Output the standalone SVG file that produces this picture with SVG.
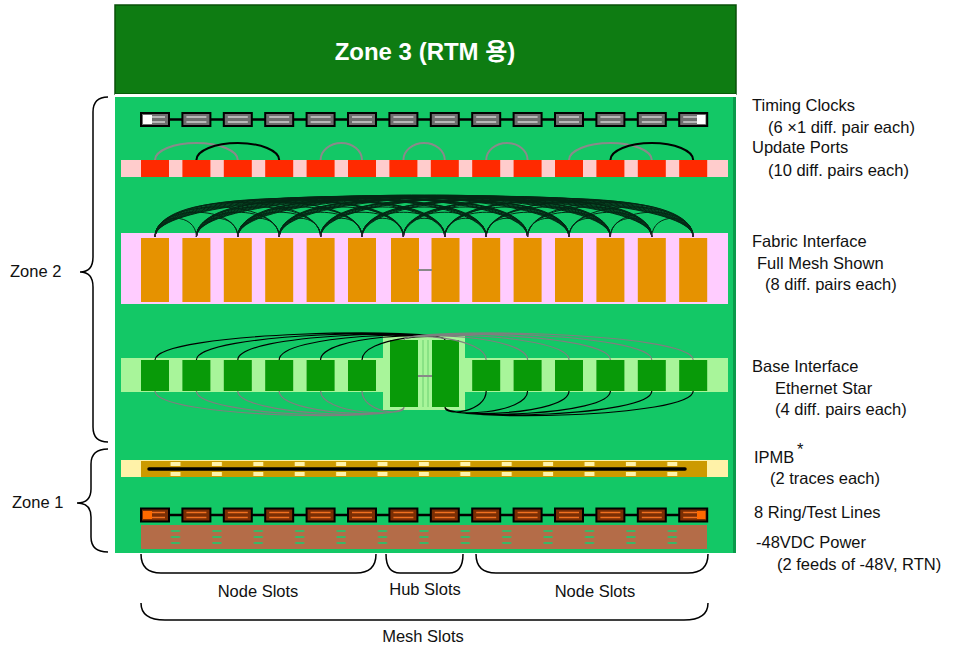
<svg xmlns="http://www.w3.org/2000/svg" xmlns:xlink="http://www.w3.org/1999/xlink" width="960" height="648" viewBox="0 0 960 648">
<style>
.lbl{font-family:"Liberation Sans",Arial,sans-serif;font-size:16.5px;fill:#111}
.zl{font-family:"Liberation Sans",Arial,sans-serif;font-size:16.5px;fill:#111}
.brace{fill:none;stroke:#000;stroke-width:1.5}
.mesh{fill:none;stroke:#000;stroke-width:1;opacity:0.8}
.gr{fill:none;stroke:#7f7f7f;stroke-width:1.2}
.bk{fill:none;stroke:#000;stroke-width:1.2}
</style>
<defs>
<g id="tcBox"><rect x="-14" y="-6.5" width="28" height="13" fill="#6e6e6e" stroke="#000" stroke-width="2"/><path d="M-10,-2.5H10M-10,2.5H10" stroke="#d0d0d0" stroke-width="1.5"/></g>
<g id="rtBox"><rect x="-14" y="-6.5" width="28" height="13" fill="#7a2e04" stroke="#000" stroke-width="2"/><path d="M-10,-2.5H10M-10,2.5H10" stroke="#f07020" stroke-width="1.5"/></g>
<rect id="upBox" x="-14" y="160" width="28" height="17" fill="#ff2a00"/>
<rect id="fbBox" x="-14" y="238" width="28" height="64" fill="#e69200"/>
<rect id="bsBox" x="-14" y="360" width="28" height="31" fill="#089a08"/>
<pattern id="ip" x="141" y="461" width="41.4" height="16" patternUnits="userSpaceOnUse"><rect x="0" y="0" width="41.4" height="16" fill="#cc9a00"/><rect x="29.5" y="1" width="10" height="4" fill="#fff2a8"/><rect x="29.5" y="11" width="10" height="4" fill="#fff2a8"/></pattern>
<pattern id="pw" x="141" y="525" width="41.4" height="24" patternUnits="userSpaceOnUse"><rect x="0" y="0" width="41.4" height="24" fill="#b46c48"/><rect x="30" y="5" width="9" height="2" fill="#3bb765"/><rect x="30" y="11" width="9" height="2" fill="#3bb765"/><rect x="30" y="17" width="9" height="2" fill="#3bb765"/></pattern>
</defs>

<g id="zone3">
<rect x="115" y="5" width="621" height="89" fill="#0e7c12" stroke="#085008" stroke-width="1.5"/>
<text x="425" y="60" text-anchor="middle" font-family="'Liberation Sans','Noto Sans CJK KR',sans-serif" font-size="24" font-weight="bold" fill="#fff">Zone 3 (RTM 용)</text>
</g>
<rect x="115" y="94" width="621" height="3" fill="#ffffff"/>
<g id="board">
<rect x="115" y="97" width="621" height="456" fill="#13c866"/>
<rect x="733" y="97" width="3" height="456" fill="#0a9a4a"/>
</g>

<g id="timing-clocks">
<line x1="141" y1="119.5" x2="707" y2="119.5" stroke="#000" stroke-width="2.5"/>
<use xlink:href="#tcBox" x="155" y="119.5"/><use xlink:href="#tcBox" x="196.4" y="119.5"/><use xlink:href="#tcBox" x="237.8" y="119.5"/><use xlink:href="#tcBox" x="279.2" y="119.5"/><use xlink:href="#tcBox" x="320.6" y="119.5"/><use xlink:href="#tcBox" x="362" y="119.5"/><use xlink:href="#tcBox" x="403.4" y="119.5"/><use xlink:href="#tcBox" x="444.8" y="119.5"/><use xlink:href="#tcBox" x="486.2" y="119.5"/><use xlink:href="#tcBox" x="527.6" y="119.5"/><use xlink:href="#tcBox" x="569" y="119.5"/><use xlink:href="#tcBox" x="610.4" y="119.5"/><use xlink:href="#tcBox" x="651.8" y="119.5"/><use xlink:href="#tcBox" x="693.2" y="119.5"/>
<rect x="143" y="115" width="9" height="9" fill="#fff"/>
<rect x="697" y="115" width="8.5" height="9" fill="#fff"/>
</g>

<g id="update-ports">
<rect x="121" y="160" width="607" height="17" fill="#ffcccc"/>
<use xlink:href="#upBox" x="155"/><use xlink:href="#upBox" x="196.4"/><use xlink:href="#upBox" x="237.8"/><use xlink:href="#upBox" x="279.2"/><use xlink:href="#upBox" x="320.6"/><use xlink:href="#upBox" x="362"/><use xlink:href="#upBox" x="403.4"/><use xlink:href="#upBox" x="444.8"/><use xlink:href="#upBox" x="486.2"/><use xlink:href="#upBox" x="527.6"/><use xlink:href="#upBox" x="569"/><use xlink:href="#upBox" x="610.4"/><use xlink:href="#upBox" x="651.8"/><use xlink:href="#upBox" x="693.2"/>
</g>

<g id="fabric-interface">
<rect x="121" y="233" width="607" height="71" fill="#ffccff"/>
<use xlink:href="#fbBox" x="155"/><use xlink:href="#fbBox" x="196.4"/><use xlink:href="#fbBox" x="237.8"/><use xlink:href="#fbBox" x="279.2"/><use xlink:href="#fbBox" x="320.6"/><use xlink:href="#fbBox" x="362"/><use xlink:href="#fbBox" x="405"/><use xlink:href="#fbBox" x="445.5"/><use xlink:href="#fbBox" x="486.2"/><use xlink:href="#fbBox" x="527.6"/><use xlink:href="#fbBox" x="569"/><use xlink:href="#fbBox" x="610.4"/><use xlink:href="#fbBox" x="651.8"/><use xlink:href="#fbBox" x="693.2"/>
<line x1="418" y1="270" x2="432" y2="270" stroke="#888" stroke-width="2"/>
</g>

<g id="base-interface">
<rect x="121" y="358" width="607" height="34" fill="#a8f59a"/>
<use xlink:href="#bsBox" x="155"/><use xlink:href="#bsBox" x="196.4"/><use xlink:href="#bsBox" x="237.8"/><use xlink:href="#bsBox" x="279.2"/><use xlink:href="#bsBox" x="320.6"/><use xlink:href="#bsBox" x="362"/><use xlink:href="#bsBox" x="486.2"/><use xlink:href="#bsBox" x="527.6"/><use xlink:href="#bsBox" x="569"/><use xlink:href="#bsBox" x="610.4"/><use xlink:href="#bsBox" x="651.8"/><use xlink:href="#bsBox" x="693.2"/>
<rect x="383" y="336" width="82" height="74" fill="#a8f59a"/>
<rect x="390" y="340" width="28" height="67" fill="#089a08"/>
<rect x="432" y="340" width="27" height="67" fill="#089a08"/>
<line x1="423" y1="340" x2="423" y2="407" stroke="#6ad070" stroke-width="1"/>
<line x1="428" y1="340" x2="428" y2="407" stroke="#6ad070" stroke-width="1"/>
<line x1="418" y1="376" x2="432" y2="376" stroke="#888" stroke-width="2"/>
</g>

<g id="ipmb">
<rect x="121" y="460" width="607" height="17" fill="#fff2a8"/>
<rect x="141" y="461" width="566" height="16" fill="url(#ip)"/>
<line x1="149" y1="469" x2="685" y2="469" stroke="#000" stroke-width="3.5" stroke-linecap="round"/>
</g>

<g id="ring-test-lines">
<line x1="141" y1="515" x2="707" y2="515" stroke="#000" stroke-width="2.5"/>
<use xlink:href="#rtBox" x="155" y="515"/><use xlink:href="#rtBox" x="196.4" y="515"/><use xlink:href="#rtBox" x="237.8" y="515"/><use xlink:href="#rtBox" x="279.2" y="515"/><use xlink:href="#rtBox" x="320.6" y="515"/><use xlink:href="#rtBox" x="362" y="515"/><use xlink:href="#rtBox" x="403.4" y="515"/><use xlink:href="#rtBox" x="444.8" y="515"/><use xlink:href="#rtBox" x="486.2" y="515"/><use xlink:href="#rtBox" x="527.6" y="515"/><use xlink:href="#rtBox" x="569" y="515"/><use xlink:href="#rtBox" x="610.4" y="515"/><use xlink:href="#rtBox" x="651.8" y="515"/><use xlink:href="#rtBox" x="693.2" y="515"/>
<rect x="143" y="511" width="9" height="8" fill="#ff6a00"/>
<rect x="697" y="511" width="8.5" height="8" fill="#ff6a00"/>
</g>

<g id="power">
<rect x="141" y="525" width="566" height="24" fill="url(#pw)"/>
</g>

<g id="connectors">
<g id="update-arcs" stroke-width="2" fill="none">
<path stroke="#8a8a8a" d="M155,160A41.4,17 0 0 1 237.8,160M320.6,160A20.7,17 0 0 1 362,160M403.4,160A20.7,17 0 0 1 444.8,160M486.2,160A20.7,17 0 0 1 527.6,160M569,160A41.4,17 0 0 1 651.8,160"/>
<path stroke="#000" d="M196.4,160A41.4,17 0 0 1 279.2,160M610.4,160A41.4,17 0 0 1 693.2,160"/>
</g>
<g id="fabric-mesh" class="mesh">
<path d="M155,237c0,-25 41.4,-25 41.4,0c0,-25 41.4,-25 41.4,0c0,-25 41.4,-25 41.4,0c0,-25 41.4,-25 41.4,0c0,-25 41.4,-25 41.4,0c0,-25 41.4,-25 41.4,0c0,-25 41.4,-25 41.4,0c0,-25 41.4,-25 41.4,0c0,-25 41.4,-25 41.4,0c0,-25 41.4,-25 41.4,0c0,-25 41.4,-25 41.4,0c0,-25 41.4,-25 41.4,0c0,-25 41.4,-25 41.4,0"/>
<path d="M155,237c0,-33 82.8,-33 82.8,0m-41.4,0c0,-33 82.8,-33 82.8,0m-41.4,0c0,-33 82.8,-33 82.8,0m-41.4,0c0,-33 82.8,-33 82.8,0m-41.4,0c0,-33 82.8,-33 82.8,0m-41.4,0c0,-33 82.8,-33 82.8,0m-41.4,0c0,-33 82.8,-33 82.8,0m-41.4,0c0,-33 82.8,-33 82.8,0m-41.4,0c0,-33 82.8,-33 82.8,0m-41.4,0c0,-33 82.8,-33 82.8,0m-41.4,0c0,-33 82.8,-33 82.8,0m-41.4,0c0,-33 82.8,-33 82.8,0"/>
<path d="M155,237c0,-40 124.2,-40 124.2,0m-82.8,0c0,-40 124.2,-40 124.2,0m-82.8,0c0,-40 124.2,-40 124.2,0m-82.8,0c0,-40 124.2,-40 124.2,0m-82.8,0c0,-40 124.2,-40 124.2,0m-82.8,0c0,-40 124.2,-40 124.2,0m-82.8,0c0,-40 124.2,-40 124.2,0m-82.8,0c0,-40 124.2,-40 124.2,0m-82.8,0c0,-40 124.2,-40 124.2,0m-82.8,0c0,-40 124.2,-40 124.2,0m-82.8,0c0,-40 124.2,-40 124.2,0"/>
<path d="M155,237c0,-46 165.6,-46 165.6,0m-124.2,0c0,-46 165.6,-46 165.6,0m-124.2,0c0,-46 165.6,-46 165.6,0m-124.2,0c0,-46 165.6,-46 165.6,0m-124.2,0c0,-46 165.6,-46 165.6,0m-124.2,0c0,-46 165.6,-46 165.6,0m-124.2,0c0,-46 165.6,-46 165.6,0m-124.2,0c0,-46 165.6,-46 165.6,0m-124.2,0c0,-46 165.6,-46 165.6,0m-124.2,0c0,-46 165.6,-46 165.6,0"/>
<path d="M155,237c0,-49 207,-49 207,0m-165.6,0c0,-49 207,-49 207,0m-165.6,0c0,-49 207,-49 207,0m-165.6,0c0,-49 207,-49 207,0m-165.6,0c0,-49 207,-49 207,0m-165.6,0c0,-49 207,-49 207,0m-165.6,0c0,-49 207,-49 207,0m-165.6,0c0,-49 207,-49 207,0m-165.6,0c0,-49 207,-49 207,0"/>
<path d="M155,237c0,-51 248.4,-51 248.4,0m-207,0c0,-51 248.4,-51 248.4,0m-207,0c0,-51 248.4,-51 248.4,0m-207,0c0,-51 248.4,-51 248.4,0m-207,0c0,-51 248.4,-51 248.4,0m-207,0c0,-51 248.4,-51 248.4,0m-207,0c0,-51 248.4,-51 248.4,0m-207,0c0,-51 248.4,-51 248.4,0"/>
<path d="M155,237c0,-52 289.8,-52 289.8,0m-248.4,0c0,-52 289.8,-52 289.8,0m-248.4,0c0,-52 289.8,-52 289.8,0m-248.4,0c0,-52 289.8,-52 289.8,0m-248.4,0c0,-52 289.8,-52 289.8,0m-248.4,0c0,-52 289.8,-52 289.8,0m-248.4,0c0,-52 289.8,-52 289.8,0"/>
<path d="M155,237c0,-53 331.2,-53 331.2,0m-289.8,0c0,-53 331.2,-53 331.2,0m-289.8,0c0,-53 331.2,-53 331.2,0m-289.8,0c0,-53 331.2,-53 331.2,0m-289.8,0c0,-53 331.2,-53 331.2,0m-289.8,0c0,-53 331.2,-53 331.2,0"/>
<path d="M155,237c0,-54 372.6,-54 372.6,0m-331.2,0c0,-54 372.6,-54 372.6,0m-331.2,0c0,-54 372.6,-54 372.6,0m-331.2,0c0,-54 372.6,-54 372.6,0m-331.2,0c0,-54 372.6,-54 372.6,0"/>
<path d="M155,237c0,-54.5 414,-54.5 414,0m-372.6,0c0,-54.5 414,-54.5 414,0m-372.6,0c0,-54.5 414,-54.5 414,0m-372.6,0c0,-54.5 414,-54.5 414,0"/>
<path d="M155,237c0,-55 455.4,-55 455.4,0m-414,0c0,-55 455.4,-55 455.4,0m-414,0c0,-55 455.4,-55 455.4,0"/>
<path d="M155,237c0,-55.5 496.8,-55.5 496.8,0m-455.4,0c0,-55.5 496.8,-55.5 496.8,0"/>
<path d="M155,237c0,-56 538.2,-56 538.2,0"/>
</g>
<g id="base-star">
<path class="bk" d="M155,360C155,331 445,327 445,340M196.4,360C196.4,332 445,328 445,340M237.8,360C237.8,333 445,329 445,340M279.2,360C279.2,334 445,330 445,340M320.6,360C320.6,335 445,331 445,340M362,360C362,337 445,332 445,340"/>
<path class="gr" d="M404,340C404,327 693.2,331 693.2,360M404,340C404,328 651.8,332 651.8,360M404,340C404,329 610.4,333 610.4,360M404,340C404,330 569,334 569,360M404,340C404,331 527.6,335 527.6,360M404,340C404,332 486.2,337 486.2,360"/>
<path class="gr" d="M155,391C155,418 404,422 404,407M196.4,391C196.4,417 404,421 404,407M237.8,391C237.8,416 404,420 404,407M279.2,391C279.2,415 404,419 404,407M320.6,391C320.6,414 404,418 404,407M362,391C362,412 404,417 404,407"/>
<path class="bk" d="M445,407C445,422 693.2,418 693.2,391M445,407C445,421 651.8,417 651.8,391M445,407C445,420 610.4,416 610.4,391M445,407C445,419 569,415 569,391M445,407C445,418 527.6,414 527.6,391M445,407C445,417 486.2,412 486.2,391"/>
</g>
</g>

<g id="zone-braces">
<path class="brace" d="M108,97Q93,97 93,112L93,257Q93,272 80,272Q93,272 93,287L93,427Q93,442 108,442"/>
<text class="zl" x="10" y="277">Zone 2</text>
<path class="brace" d="M108,449Q91,449 91,464L91,489Q91,503 77,503Q91,503 91,517L91,537Q91,552 108,552"/>
<text class="zl" x="12" y="508">Zone 1</text>
</g>

<g id="slot-braces">
<path class="brace" d="M141,554Q141,573 161,573L356,573Q376,573 376,554"/>
<path class="brace" d="M386,554Q386,573 400,573L449,573Q463,573 463,554"/>
<path class="brace" d="M476,554Q476,573 496,573L688,573Q708,573 708,554"/>
<text class="zl" x="258" y="597" text-anchor="middle">Node Slots</text>
<text class="zl" x="425" y="595" text-anchor="middle">Hub Slots</text>
<text class="zl" x="595" y="597" text-anchor="middle">Node Slots</text>
<path class="brace" d="M141,603Q141,620 165,620L684,620Q708,620 708,603"/>
<text class="zl" x="423" y="642" text-anchor="middle">Mesh Slots</text>
</g>

<g id="labels">
<text class="lbl" x="752" y="111">Timing Clocks</text>
<text class="lbl" x="768" y="133">(6 ×1 diff. pair each)</text>
<text class="lbl" x="752" y="153">Update Ports</text>
<text class="lbl" x="768" y="176">(10 diff. pairs each)</text>
<text class="lbl" x="752" y="247">Fabric Interface</text>
<text class="lbl" x="757" y="269">Full Mesh Shown</text>
<text class="lbl" x="765" y="290">(8 diff. pairs each)</text>
<text class="lbl" x="752" y="372">Base Interface</text>
<text class="lbl" x="775" y="394">Ethernet Star</text>
<text class="lbl" x="775" y="415">(4 diff. pairs each)</text>
<text class="lbl" x="754" y="463">IPMB</text>
<text class="lbl" x="797" y="455" font-size="10">*</text>
<text class="lbl" x="770" y="484">(2 traces each)</text>
<text class="lbl" x="754" y="518">8 Ring/Test Lines</text>
<text class="lbl" x="756" y="548">-48VDC Power</text>
<text class="lbl" x="777" y="570">(2 feeds of -48V, RTN)</text>
</g>
</svg>
